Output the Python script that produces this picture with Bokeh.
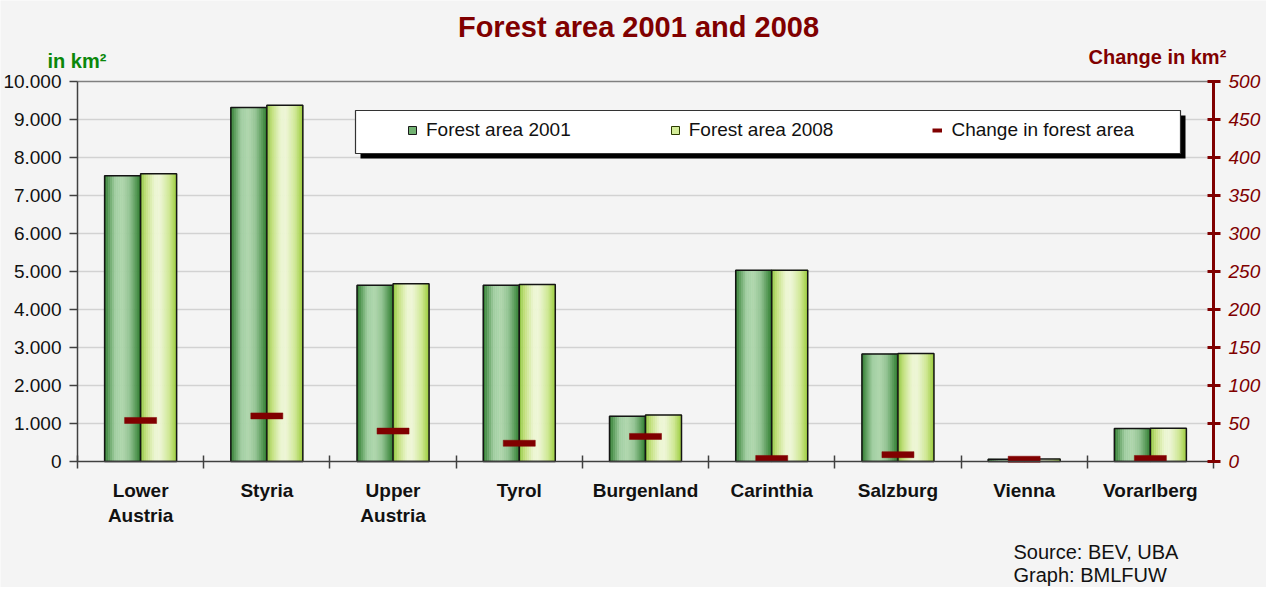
import math
from bokeh.plotting import figure
from bokeh.models import (Range1d, LinearAxis, FixedTicker, ColumnDataSource, Legend,
                          LegendItem, Label, BoxAnnotation)
from bokeh.embed import file_html
from bokeh.resources import INLINE

# ---------------- data ----------------
categories = ["Lower\nAustria", "Styria", "Upper\nAustria", "Tyrol", "Burgenland",
              "Carinthia", "Salzburg", "Vienna", "Vorarlberg"]
forest_2001 = [7520, 9315, 4636, 4636, 1192, 5030, 2830, 60, 868]
forest_2008 = [7574, 9375, 4676, 4660, 1225, 5034, 2839, 63, 872]
change_km2 = [54, 60, 40, 24, 33, 4, 9, 3, 4]
left_ticks = [0, 1000, 2000, 3000, 4000, 5000, 6000, 7000, 8000, 9000, 10000]
right_ticks = [0, 50, 100, 150, 200, 250, 300, 350, 400, 450, 500]

# ---------------- layout constants (page px) ----------------
W, H = 1266, 587
OX, OY = 8, 8                       # canvas origin on the page
FL, FT, FR, FB = 85, 89, 1221, 469  # plot area edges on the page
YMAX, RMAX = 10000, 500

n = len(categories)
centers = [i + 0.5 for i in range(n)]
boundaries = [float(i) for i in range(n + 1)]
cat_px = (FR - FL) / n
ypp = YMAX / (FB - FT)
x_start, x_end = (OX - FL) / cat_px, (OX + W - FL) / cat_px
y_start, y_end = -(OY + H - FB) * ypp, (FB - OY) * ypp
rf = RMAX / YMAX


def sx(px):
    return px - OX


def sy(py):
    return OY + H - py


bw = 36 / cat_px

p = figure(width=W, height=H, x_range=Range1d(x_start, x_end),
           y_range=Range1d(y_start, y_end), output_backend="svg",
           toolbar_location=None, title=None, min_border=0)
p.extra_y_ranges = {"right": Range1d(y_start * rf, y_end * rf)}
p.background_fill_color = "#f4f4f4"
p.border_fill_color = "#f4f4f4"
p.outline_line_color = None
p.xgrid.visible = False
p.ygrid.visible = False

# grid lines across the plot area only
grid_vals = left_ticks[1:-1]
p.segment(x0=[0] * len(grid_vals), x1=[n] * len(grid_vals), y0=grid_vals, y1=grid_vals,
          line_color="#d2d2d2", line_width=1.5)
p.segment(x0=[0], x1=[n], y0=[left_ticks[-1]], y1=[left_ticks[-1]],
          line_color="#808080", line_width=1.5)

# left axis
ya = p.yaxis[0]
ya.fixed_location = 0
ya.bounds = (0, YMAX)
ya.ticker = FixedTicker(ticks=left_ticks)
ya.major_label_overrides = {t: f"{t:,}".replace(",", ".") for t in left_ticks}
ya.major_tick_out = 8
ya.major_tick_in = 0
ya.minor_tick_out = 0
ya.minor_tick_in = 0
ya.axis_line_color = "#404040"
ya.axis_line_width = 1.5
ya.major_tick_line_color = "#404040"
ya.major_tick_line_width = 1.5
ya.major_label_text_font = "Liberation Sans"
ya.major_label_text_font_size = "19px"
ya.major_label_text_color = "#111111"
ya.major_label_standoff = 8

# bottom axis
xa = p.xaxis[0]
xa.fixed_location = 0
xa.bounds = (0, n)
xa.ticker = FixedTicker(ticks=centers, minor_ticks=boundaries)
xa.major_label_overrides = {c: name for c, name in zip(centers, categories)}
xa.major_tick_out = 0
xa.major_tick_in = 0
xa.minor_tick_in = 6
xa.minor_tick_out = 7
xa.minor_tick_line_color = "#404040"
xa.minor_tick_line_width = 1.5
xa.axis_line_color = "#404040"
xa.axis_line_width = 1.5
xa.major_label_text_font = "Liberation Sans"
xa.major_label_text_font_style = "bold"
xa.major_label_text_font_size = "19px"
xa.major_label_text_color = "#111111"
xa.major_label_standoff = 11

# right axis
ra = LinearAxis(y_range_name="right", ticker=FixedTicker(ticks=right_ticks),
                fixed_location=n, bounds=(0, RMAX))
ra.axis_line_color = "#800000"
ra.axis_line_width = 3
ra.major_tick_line_color = "#800000"
ra.major_tick_line_width = 3
ra.major_tick_in = 6
ra.major_tick_out = 7
ra.minor_tick_out = 0
ra.minor_tick_in = 0
ra.major_label_text_font = "Liberation Sans"
ra.major_label_text_font_style = "italic"
ra.major_label_text_font_size = "19px"
ra.major_label_text_color = "#800000"
ra.major_label_standoff = 8
p.add_layout(ra, "right")


# ---------------- gradient bars ----------------
def hex2rgb(h):
    h = h.lstrip("#")
    return [int(h[i:i + 2], 16) for i in (0, 2, 4)]


def interp(stops, t):
    for (t0, c0), (t1, c1) in zip(stops, stops[1:]):
        if t0 <= t <= t1:
            f = (t - t0) / (t1 - t0) if t1 > t0 else 0
            a, b = hex2rgb(c0), hex2rgb(c1)
            return "#%02x%02x%02x" % tuple(int(round(a[k] + (b[k] - a[k]) * f)) for k in range(3))
    return stops[-1][1]


grad_2001 = [(0, "#2a782a"), (0.12, "#5c9d5c"), (0.3, "#a2cfa2"), (0.5, "#b0d7ae"),
             (0.7, "#93c393"), (0.88, "#579a57"), (1.0, "#2c7b2c")]
grad_2008 = [(0, "#8cc43a"), (0.15, "#c2e07c"), (0.4, "#edf6d3"), (0.55, "#eef6d6"),
             (0.8, "#cfe894"), (1.0, "#9ccc3c")]

NS = 18
sw = bw / NS
for values, off, grad in [(forest_2001, -bw / 2, grad_2001), (forest_2008, bw / 2, grad_2008)]:
    xs, tops, cols = [], [], []
    for k in range(NS):
        col = interp(grad, (k + 0.5) / NS)
        for c, v in zip(centers, values):
            xs.append(c + off - bw / 2 + (k + 0.5) * sw)
            tops.append(v)
            cols.append(col)
    src = ColumnDataSource(dict(x=xs, top=tops, color=cols))
    p.vbar(x="x", top="top", width=sw, source=src, fill_color="color",
           line_color="color", line_width=0.6)
    p.vbar(x=[c + off for c in centers], top=values, width=bw, fill_alpha=0,
           line_color="#141414", line_width=1.5)

# change markers
p.rect(x=centers, y=change_km2, width=32 / cat_px, height=6, height_units="screen",
       fill_color="#800000", line_color="#800000", line_width=0.5, y_range_name="right")

# ---------------- legend ----------------
shadow = BoxAnnotation(left=sx(368), right=sx(1193), top=sy(123), bottom=sy(166),
                       left_units="screen", right_units="screen", top_units="screen",
                       bottom_units="screen", fill_color="black", fill_alpha=1,
                       line_alpha=0)
box = BoxAnnotation(left=sx(363), right=sx(1188), top=sy(118), bottom=sy(161),
                    left_units="screen", right_units="screen", top_units="screen",
                    bottom_units="screen", fill_color="white", fill_alpha=1,
                    line_color="#333333", line_width=1.2, line_alpha=1)
p.add_layout(shadow)
p.add_layout(box)

nan = float("nan")
lg1 = p.vbar(x=[nan], top=[nan], width=0.1, fill_color="#72b272", line_color="#1a1a1a")
lg2 = p.vbar(x=[nan], top=[nan], width=0.1, fill_color="#d3ec98", line_color="#2a3a00")
lg3 = p.line(x=[nan, nan], y=[nan, nan], line_color="#800000", line_width=4)
legend = Legend(items=[LegendItem(label="Forest area 2001", renderers=[lg1]),
                       LegendItem(label="Forest area 2008", renderers=[lg2]),
                       LegendItem(label="Change in forest area", renderers=[lg3])],
                orientation="horizontal", location=(sx(415), sy(149)),
                padding=0, margin=0, spacing=99, glyph_width=10, glyph_height=10,
                label_standoff=9, label_height=20, label_text_font="Liberation Sans",
                label_text_font_size="19px", label_text_color="#111111",
                background_fill_alpha=0, border_line_alpha=0)
p.add_layout(legend)


# ---------------- texts ----------------
def add_text(text, px, py, size, color, style="normal", align="left"):
    # py is the wanted baseline on the page; Bokeh's alphabetic anchor sits
    # about a third of the font size above the drawn baseline
    fs = float(size.replace("px", ""))
    p.add_layout(Label(x=sx(px), y=sy(py) + 0.32 * fs, x_units="screen", y_units="screen",
                       text=text, text_align=align, text_baseline="alphabetic",
                       text_font="Liberation Sans", text_font_style=style,
                       text_font_size=size, text_color=color))


add_text("Forest area 2001 and 2008", 646, 44, "29px", "#800000", "bold", "center")
add_text("in km²", 55, 75, "20px", "#0a870a", "bold")
add_text("Change in km²", 1096, 71, "20px", "#800000", "bold")
add_text("Source: BEV, UBA", 1021, 566, "20px", "#111111")
add_text("Graph: BMLFUW", 1021, 589, "20px", "#111111")

open("out.html", "w").write(file_html(p, INLINE))
